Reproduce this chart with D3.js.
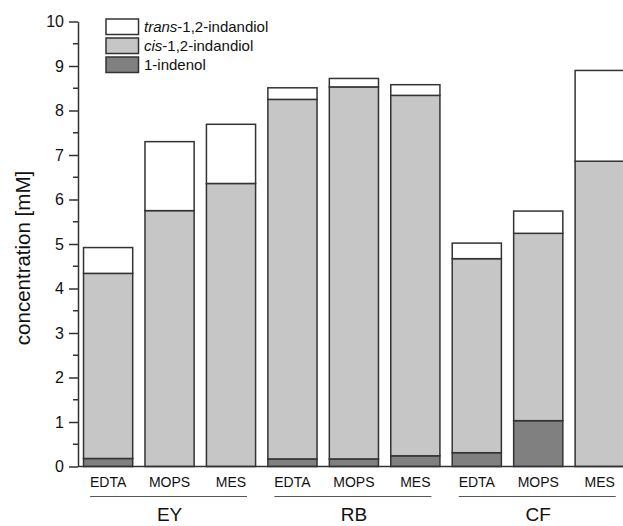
<!DOCTYPE html>
<html>
<head>
<meta charset="utf-8">
<script src="https://cdn.jsdelivr.net/npm/d3@7"></script>
<style>
  html, body { margin: 0; padding: 0; background: #fff; }
  svg { display: block; font-family: Arial, "Liberation Sans", sans-serif; }
</style>
</head>
<body>
<svg id="chart" width="623" height="526"></svg>
<script>
// ---- data ----
const groups = ["EY", "RB", "CF"];
const buffers = ["EDTA", "MOPS", "MES"];
const indenol = [0.18, 0.00, 0.00, 0.17, 0.17, 0.24, 0.31, 1.03, 0.00];
const cisDiol = [4.16, 5.75, 6.36, 8.08, 8.36, 8.10, 4.36, 4.21, 6.86];
const transDiol = [0.58, 1.55, 1.33, 0.26, 0.19, 0.24, 0.35, 0.50, 2.04];
const yTicks = [0, 1, 2, 3, 4, 5, 6, 7, 8, 9, 10];
const seriesKeys = ["indenol", "cis", "trans"];
const legendItems = [
  { key: "trans", italic: "trans", rest: "-1,2-indandiol" },
  { key: "cis", italic: "cis", rest: "-1,2-indandiol" },
  { key: "indenol", italic: "", rest: "1-indenol" }
];

// build table
const rows = [];
groups.forEach((g, gi) => buffers.forEach((b, bi) => {
  const i = gi * buffers.length + bi;
  rows.push({ id: g + "-" + b, group: g, buffer: b,
    indenol: indenol[i], cis: cisDiol[i], trans: transDiol[i] });
}));

const colors = { indenol: "#808080", cis: "#c6c6c6", trans: "#ffffff" };
const strokeCol = "#333333";

const svg = d3.select("#chart");
const W = 623;
const left = 78;

const x = d3.scaleBand()
  .domain(rows.map(d => d.id))
  .range([left, left + 551.8])
  .paddingInner(0.2)
  .paddingOuter(0.09);

const y = d3.scaleLinear().domain([0, 10]).range([466.5, 21.5]);

const stack = d3.stack().keys(seriesKeys);
const stacked = stack(rows);

// bars
svg.append("g").selectAll("g")
  .data(stacked)
  .join("g")
  .attr("fill", s => colors[s.key])
  .selectAll("rect")
  .data(s => s.map(v => ({ v, id: v.data.id })))
  .join("rect")
  .attr("x", d => x(d.id))
  .attr("width", x.bandwidth())
  .attr("y", d => y(d.v[1]))
  .attr("height", d => Math.max(0, y(d.v[0]) - y(d.v[1])))
  .attr("stroke", strokeCol)
  .attr("stroke-width", 1.5)
  .filter(d => d.v[1] - d.v[0] <= 0).remove();

// y axis major
const yAxis = d3.axisLeft(y).tickValues(yTicks).tickSize(9).tickPadding(5).tickSizeOuter(0)
  .tickFormat(d3.format("d"));
const gy = svg.append("g").attr("transform", `translate(${left},0)`).call(yAxis);
gy.select(".domain").attr("stroke", strokeCol).attr("stroke-width", 1.5);
gy.selectAll(".tick line").attr("stroke", strokeCol).attr("stroke-width", 1.5);
gy.selectAll(".tick text").attr("font-size", 16).attr("fill", "#111")
  .attr("font-family", "Arial, 'Liberation Sans', sans-serif");

// minor ticks
const minor = d3.range(0, 10, 1).map(v => v + 0.5);
svg.append("g").selectAll("line").data(minor).join("line")
  .attr("x1", left - 5).attr("x2", left)
  .attr("y1", d => y(d)).attr("y2", d => y(d))
  .attr("stroke", strokeCol).attr("stroke-width", 1.5);

// x axis baseline
svg.append("line")
  .attr("x1", left).attr("x2", W)
  .attr("y1", y(0)).attr("y2", y(0))
  .attr("stroke", strokeCol).attr("stroke-width", 1.5);

// buffer labels
svg.append("g").selectAll("text").data(rows).join("text")
  .attr("x", d => x(d.id) + x.bandwidth() / 2)
  .attr("y", 487)
  .attr("text-anchor", "middle")
  .attr("font-size", 14)
  .attr("fill", "#111")
  .text(d => d.buffer);

// group underline + labels
groups.forEach(g => {
  const ids = rows.filter(r => r.group === g).map(r => r.id);
  const c0 = x(ids[0]) + x.bandwidth() / 2;
  const c1 = x(ids[ids.length - 1]) + x.bandwidth() / 2;
  svg.append("line")
    .attr("x1", c0 - 18).attr("x2", c1 + 16)
    .attr("y1", 496.5).attr("y2", 496.5)
    .attr("stroke", "#555").attr("stroke-width", 1);
  svg.append("text")
    .attr("x", (c0 + c1) / 2)
    .attr("y", 521)
    .attr("text-anchor", "middle")
    .attr("font-size", 19)
    .attr("fill", "#111")
    .text(g);
});

// y label
svg.append("text")
  .attr("transform", "translate(30,258) rotate(-90)")
  .attr("text-anchor", "middle")
  .attr("font-size", 20.5)
  .attr("fill", "#111")
  .text("concentration [mM]");

// legend
const lg = svg.append("g");
legendItems.forEach((it, i) => {
  const yy = 19 + i * 19;
  lg.append("rect")
    .attr("x", 106).attr("y", yy)
    .attr("width", 32.5).attr("height", 15.5)
    .attr("fill", colors[it.key])
    .attr("stroke", strokeCol).attr("stroke-width", 1.5);
  const t = lg.append("text")
    .attr("x", 144).attr("y", yy + 12.5)
    .attr("font-size", 15).attr("fill", "#111");
  if (it.italic) t.append("tspan").attr("font-style", "italic").text(it.italic);
  t.append("tspan").text(it.rest);
});
</script>
</body>
</html>
